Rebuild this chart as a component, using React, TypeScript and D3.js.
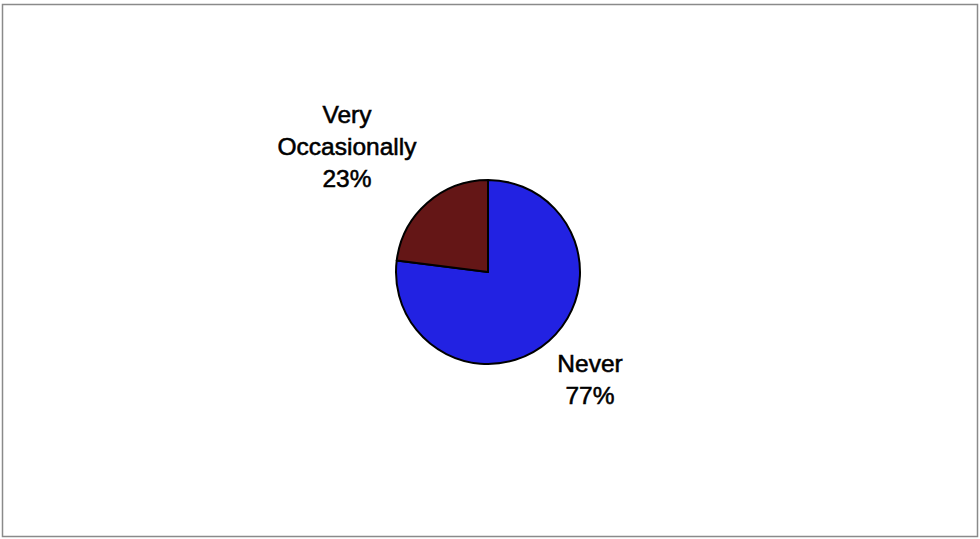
import React from "react";
import * as d3 from "d3";

const categories = ["Never", "Very Occasionally"];
const values = [77, 23];
const colors = ["#2222e2", "#641616"];
const labelLines = [["Never", "77%"], ["Very", "Occasionally", "23%"]];

const W = 980;
const H = 539;
const cx = 488;
const cy = 272;
const R = 92;

export default function App() {
  const pie = d3.pie<number>().sort(null).value((d) => d);
  const arcs = pie(values);
  const arc = d3.arc<d3.PieArcDatum<number>>().innerRadius(0).outerRadius(R);
  // label anchors relative to pie centre
  const labelPos: [number, number][] = [[102, 108], [-141, -125]];
  const lineH = 32;

  return (
    <svg
      width={W}
      height={H}
      style={{ position: "absolute", left: 0, top: 0, background: "#fff" }}
      fontFamily="'Liberation Sans', Arial, sans-serif"
    >
      <rect x={2.5} y={4.5} width={975} height={532} fill="#fff" stroke="#8a8a8a" strokeWidth={1.5} />
      <g transform={`translate(${cx},${cy})`}>
        {arcs.map((a, i) => (
          <path key={categories[i]} d={arc(a) || ""} fill={colors[i]} stroke="#000" strokeWidth={2} strokeLinejoin="round" />
        ))}
        {arcs.map((a, i) => {
          const [lx, ly] = labelPos[i];
          const lines = labelLines[i];
          const top = ly - ((lines.length - 1) * lineH) / 2;
          return (
            <text key={"l" + i} textAnchor="middle" fontSize={24.5} fill="#000" stroke="#000" strokeWidth={0.55}>
              {lines.map((t, j) => (
                <tspan key={j} x={lx} y={top + j * lineH + 8}>
                  {t}
                </tspan>
              ))}
            </text>
          );
        })}
      </g>
    </svg>
  );
}
